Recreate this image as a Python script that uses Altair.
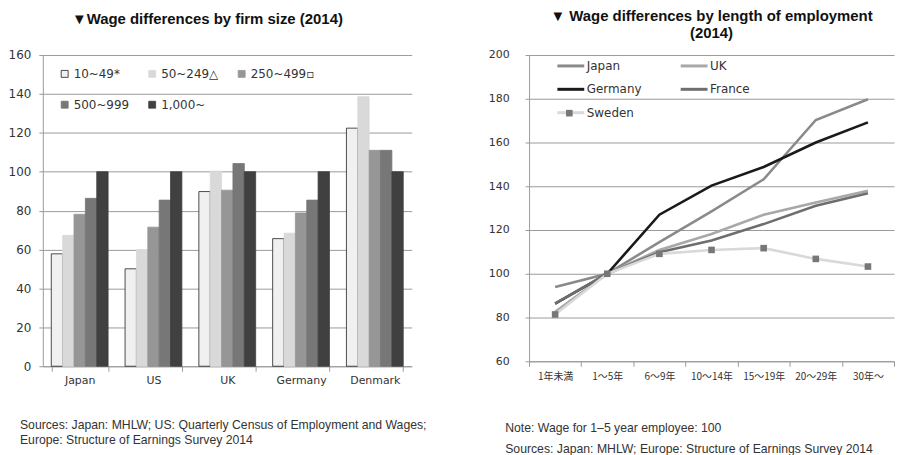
import altair as alt
import pandas as pd

# ---------------- Left chart data: wage differences by firm size ----------------
countries = ["Japan", "US", "UK", "Germany", "Denmark"]
sizes = ["10~49*", "50~249△", "250~499▫", "500~999", "1,000~"]
v_10_49 = [57.8, 50.1, 89.8, 65.6, 122.4]
v_50_249 = [67.3, 60.0, 100.3, 68.4, 138.6]
v_250_499 = [78.1, 71.5, 90.5, 78.8, 111.0]
v_500_999 = [86.3, 85.4, 104.2, 85.4, 111.0]
v_1000 = [100, 100, 100, 100, 100]
size_fill = ["#f0f0f0", "#d9d9d9", "#969696", "#777777", "#404040"]
size_stroke = ["#222222", "#d9d9d9", "#969696", "#777777", "#404040"]

# ---------------- Right chart data: wage differences by length of employment ----------------
tenure = ["1年未満", "1～5年", "6～9年", "10～14年", "15～19年", "20～29年", "30年～"]
line_countries = ["Japan", "UK", "Germany", "France", "Sweden"]
japan = [94.0, 100, 114.5, 128.5, 143.2, 170.3, 179.8]
uk = [82.6, 100, 110.9, 118.2, 127.0, 132.6, 137.9]
germany = [86.4, 100, 127.0, 140.3, 148.8, 160.0, 169.2]
france = [86.4, 100, 109.8, 115.2, 122.7, 131.1, 136.8]
sweden = [81.4, 100, 109.1, 110.9, 111.7, 106.8, 103.3]
line_colors = ["#8a8a8a", "#a8a8a8", "#1a1a1a", "#6e6e6e", "#d9d9d9"]
marker_series = ["Sweden"]

left_title = "▼Wage differences by firm size (2014)"
right_title = ["▼ Wage differences by length of employment", "(2014)"]
left_notes = ["Sources: Japan: MHLW; US: Quarterly Census of Employment and Wages;",
              "Europe: Structure of Earnings Survey 2014"]
right_notes = ["Note: Wage for 1–5 year employee: 100",
               "Sources: Japan: MHLW; Europe: Structure of Earnings Survey 2014"]

# ---------------- tables ----------------
rows = []
for s, vals in zip(sizes, [v_10_49, v_50_249, v_250_499, v_500_999, v_1000]):
    for c, v in zip(countries, vals):
        rows.append({"country": c, "size": s, "value": v})
df_bar = pd.DataFrame(rows)

rows = []
for c, vals in zip(line_countries, [japan, uk, germany, france, sweden]):
    for t, v in zip(tenure, vals):
        rows.append({"country": c, "tenure": t, "value": v})
df_line = pd.DataFrame(rows)

GRID = "#9a9a9a"
TXT = "#333333"
LW, LH = 371, 313
RW, RH = 367, 308


def note(text, x, y):
    return alt.Chart(pd.DataFrame({"t": [text]})).mark_text(
        align="left", baseline="middle", font="Liberation Sans", fontSize=12.3, color=TXT
    ).encode(x=alt.value(x), y=alt.value(y), text="t:N")


# ---------------- left chart ----------------
legend_left = alt.Legend(
    orient="none", legendX=16, legendY=13, direction="horizontal", columns=3,
    symbolType="square", symbolSize=49, symbolStrokeWidth=0.8,
    labelFont="DejaVu Sans", labelFontSize=12, labelColor=TXT, labelOffset=3,
    columnPadding=17, rowPadding=19, padding=0, title=None,
)

bars = alt.Chart(df_bar).mark_bar(strokeWidth=0.8).encode(
    x=alt.X("country:N", sort=countries,
            scale=alt.Scale(paddingInner=0.23, paddingOuter=0.115),
            axis=alt.Axis(title=None, labelAngle=0, tickBand="extent", labelFont="DejaVu Sans",
                          labelFontSize=11, labelColor=TXT, tickSize=5, labelPadding=3,
                          tickColor=GRID, domainColor=GRID, grid=False)),
    xOffset=alt.XOffset("size:N", sort=sizes, scale=alt.Scale(paddingInner=0, paddingOuter=0)),
    y=alt.Y("value:Q", scale=alt.Scale(domain=[0, 160]),
            axis=alt.Axis(title=None, values=[0, 20, 40, 60, 80, 100, 120, 140, 160],
                          labelFont="DejaVu Sans", labelFontSize=12, labelColor=TXT,
                          tickSize=4, labelPadding=8, tickColor=GRID, domainColor=GRID,
                          gridColor=GRID)),
    color=alt.Color("size:N", sort=sizes, scale=alt.Scale(domain=sizes, range=size_fill),
                    legend=legend_left),
    stroke=alt.Stroke("size:N", sort=sizes, scale=alt.Scale(domain=sizes, range=size_stroke),
                      legend=legend_left),
)

left = alt.layer(
    bars, note(left_notes[0], -23, 372), note(left_notes[1], -23, 387)
).properties(
    width=LW, height=LH,
    title=alt.Title(left_title, font="Liberation Sans", fontSize=15, fontWeight="bold",
                    color="#111111", anchor="middle", frame="group", dx=-20, offset=22),
)

# ---------------- right chart ----------------
legend_right = alt.Legend(
    orient="none", legendX=27, legendY=-4, direction="horizontal", columns=2,
    symbolType="stroke", symbolSize=729, symbolStrokeWidth=3,
    labelFont="DejaVu Sans", labelFontSize=12, labelColor=TXT, labelOffset=1,
    columnPadding=32, rowPadding=2.5, padding=0, title=None,
)

# square marker drawn over the Sweden entry of the line legend
legend_marker = alt.Legend(
    orient="none", legendX=37, legendY=55, title=None, padding=0,
    symbolType="square", symbolSize=44, symbolFillColor="#777777",
    symbolStrokeColor="#777777", symbolStrokeWidth=0, symbolOpacity=1,
    labelExpr="''", labelFontSize=1, labelOffset=0,
)

xr = alt.X("tenure:N", sort=tenure, scale=alt.Scale(type="band", paddingInner=0, paddingOuter=0),
           axis=alt.Axis(title=None, labelAngle=0, tickBand="extent", labelFont="Noto Sans CJK JP",
                         labelFontSize=10, labelColor=TXT, tickSize=5, labelPadding=5,
                         tickColor=GRID, domainColor=GRID, grid=False))
yr = alt.Y("value:Q", scale=alt.Scale(domain=[60, 200]),
           axis=alt.Axis(title=None, values=[60, 80, 100, 120, 140, 160, 180, 200],
                         labelFont="DejaVu Sans", labelFontSize=11, labelColor=TXT,
                         tickSize=4, labelPadding=16, tickColor=GRID, domainColor=GRID,
                         gridColor=GRID))

lines = alt.Chart(df_line).mark_line(strokeWidth=2.6).encode(
    x=xr, y=yr,
    color=alt.Color("country:N", sort=line_countries,
                    scale=alt.Scale(domain=line_countries, range=line_colors),
                    legend=legend_right),
)

pts = alt.Chart(df_line).transform_filter(
    alt.FieldOneOfPredicate(field="country", oneOf=marker_series)
).mark_point(size=44, color="#777777", filled=True, opacity=1).encode(
    x=xr, y=yr,
    shape=alt.Shape("country:N", scale=alt.Scale(domain=marker_series, range=["square"]),
                    legend=legend_marker),
)

right = alt.layer(
    lines, pts, note(right_notes[0], -24, 375), note(right_notes[1], -24, 396)
).properties(
    width=RW, height=RH,
    title=alt.Title(right_title, font="Liberation Sans", fontSize=15, fontWeight="bold",
                    color="#111111", anchor="middle", frame="group", offset=8, lineHeight=17),
)

chart = alt.hconcat(left, right, spacing=118, bounds="flush").resolve_scale(
    color="independent", stroke="independent", shape="independent"
).resolve_legend(color="independent", stroke="independent", shape="independent").properties(
    padding=0
).configure_view(stroke=None).configure_axis(gridWidth=1)

chart.save("out.html", embed_options={"renderer": "svg", "actions": False})
